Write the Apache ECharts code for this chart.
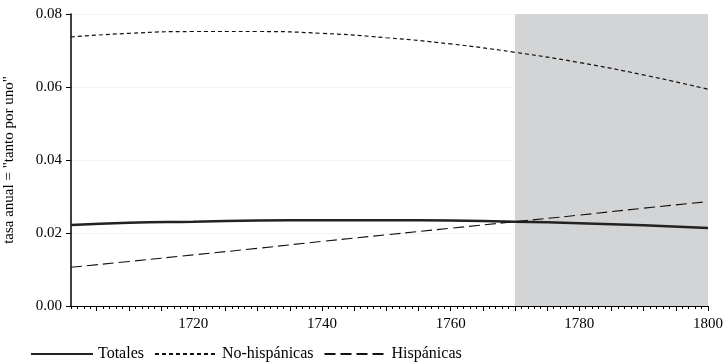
<!DOCTYPE html>
<html><head><meta charset="utf-8">
<script src="https://cdn.jsdelivr.net/npm/echarts@6/dist/echarts.min.js"></script>
<style>html,body{margin:0;padding:0;background:#fff}#c{width:726px;height:364px}</style>
</head><body><div id="c"></div>
<script>
const years = [1701, 1710, 1720, 1730, 1740, 1750, 1760, 1770, 1780, 1790, 1800];
const totales = [0.0222, 0.0228, 0.0231, 0.0234, 0.0235, 0.0235, 0.0234, 0.0231, 0.0227, 0.0221, 0.0214];
const noHispanicas = [0.0737, 0.0747, 0.0752, 0.0752, 0.0747, 0.0735, 0.0718, 0.0695, 0.0667, 0.0633, 0.0594];
const hispanicas = [0.0106, 0.0122, 0.0140, 0.0158, 0.0177, 0.0195, 0.0213, 0.0231, 0.0249, 0.0268, 0.0286];
const xLabels = [1720, 1740, 1760, 1780, 1800];
const majorTicks = [1705,1710,1715,1720,1725,1730,1735,1740,1745,1750,1755,1760,1765,1770,1775,1780,1785,1790,1795,1800];
const shadeRange = [1770, 1800];

const font = '"Liberation Serif", "DejaVu Serif", serif';
const pair = arr => years.map((y, i) => [y, arr[i]]);

const chart = echarts.init(document.getElementById('c'));
chart.setOption({
  animation: false,
  grid: {left: 71, right: 18, top: 14, bottom: 58, outerBoundsMode: 'none', containLabel: false},
  legend: {
    left: 30, bottom: 2, padding: 0, itemWidth: 62, itemHeight: 10, itemGap: 10,
    itemStyle: {opacity: 0},
    textStyle: {fontFamily: font, fontSize: 16, color: '#000'},
    data: ['Totales', 'No-hispánicas', 'Hispánicas']
  },
  xAxis: [{
    type: 'value', min: 1701, max: 1800, interval: 1,
    axisLine: {lineStyle: {color: '#000', width: 1}},
    axisTick: {length: 3, lineStyle: {color: '#000'}},
    axisLabel: {
      margin: 11, fontFamily: font, fontSize: 15, color: '#000',
      formatter: v => xLabels.indexOf(v) >= 0 ? String(v) : ''
    },
    splitLine: {show: false}
  }, {
    type: 'value', min: 1701, max: 1800, position: 'bottom',
    axisLine: {show: false},
    axisTick: {show: true, length: 5, customValues: majorTicks, lineStyle: {color: '#000'}},
    axisLabel: {show: false},
    splitLine: {show: false}
  }],
  yAxis: {
    type: 'value', min: 0, max: 0.08, interval: 0.02,
    name: 'tasa anual = "tanto por uno"', nameLocation: 'middle', nameGap: 54,
    nameTextStyle: {fontFamily: font, fontSize: 15, color: '#000'},
    axisLine: {show: true, lineStyle: {color: '#000', width: 1.5}},
    axisTick: {show: true, length: 5, lineStyle: {color: '#000'}},
    axisLabel: {fontFamily: font, fontSize: 15, color: '#000', margin: 9,
      formatter: v => v.toFixed(2)},
    splitLine: {show: true, lineStyle: {color: '#e8e8e8', type: 'dotted', width: 1}}
  },
  series: [{
    name: 'Totales', type: 'line', showSymbol: false, symbol: 'none', smooth: true,
    data: pair(totales), lineStyle: {color: '#222', width: 2.5, type: 'solid'},
    itemStyle: {color: '#222'},
    markArea: {silent: true, itemStyle: {color: '#d3d4d6'},
      data: [[{xAxis: shadeRange[0]}, {xAxis: shadeRange[1]}]]},
    z: 3
  }, {
    name: 'No-hispánicas', type: 'line', showSymbol: false, symbol: 'none', smooth: true,
    data: pair(noHispanicas), lineStyle: {color: '#111', width: 1.2, type: [4, 3]},
    itemStyle: {color: '#111'}
  }, {
    name: 'Hispánicas', type: 'line', showSymbol: false, symbol: 'none', smooth: true,
    data: pair(hispanicas), lineStyle: {color: '#111', width: 1.1, type: [11, 5]},
    itemStyle: {color: '#111'}
  }]
});
</script></body></html>
